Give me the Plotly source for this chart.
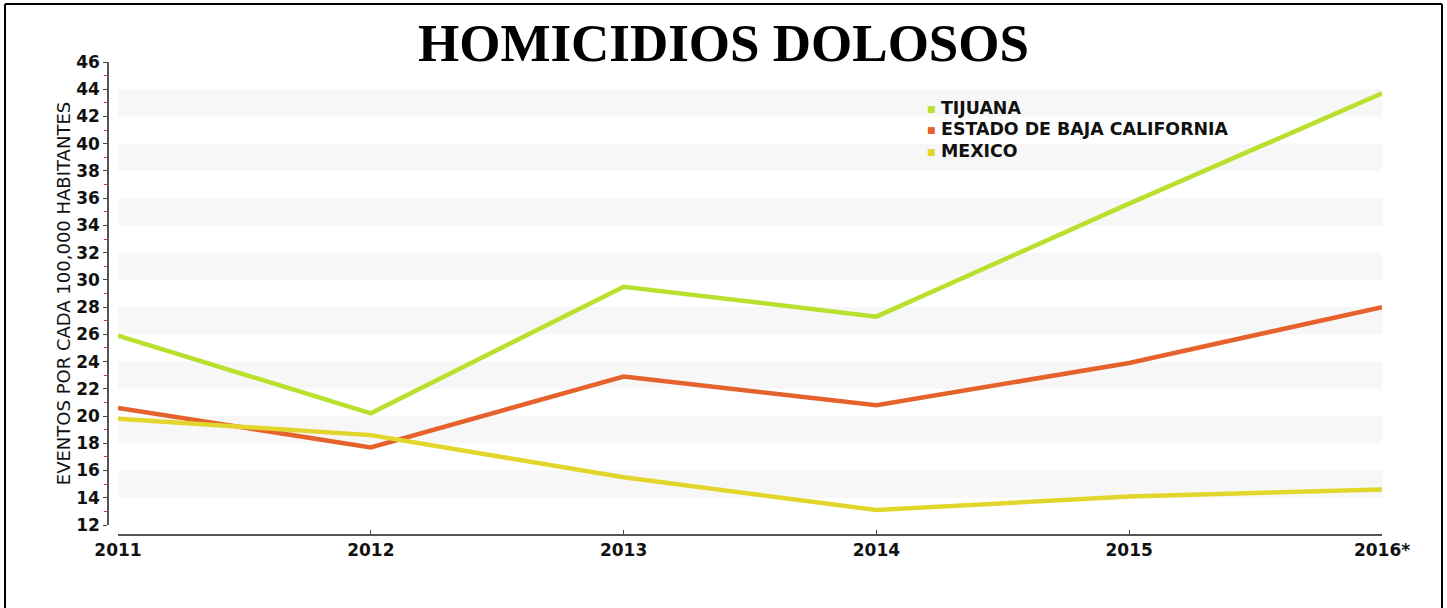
import plotly.graph_objects as go

years = [2011, 2012, 2013, 2014, 2015, 2016]
year_labels = ["2011", "2012", "2013", "2014", "2015", "2016*"]
tijuana = [25.9, 20.2, 29.5, 27.3, 35.6, 43.7]
estado_bc = [20.6, 17.7, 22.9, 20.8, 23.9, 28.0]
mexico = [19.8, 18.6, 15.5, 13.1, 14.1, 14.6]

series_names = ["TIJUANA", "ESTADO DE BAJA CALIFORNIA", "MEXICO"]
series_values = [tijuana, estado_bc, mexico]
colors = ["#b8e02c", "#e6622c", "#e2d52c"]

y_min, y_max = 12, 46
y_ticks = list(range(12, 47, 2))

W, H = 1447, 608
ml, mr, mt, mb = 108, 65, 62, 73
pw, ph = W - ml - mr, H - mt - mb
gap = 10


def px_x(p):
    return (p - ml) / pw


def px_y(p):
    return (H - mb - p) / ph


fig = go.Figure()

for name, vals, col in zip(series_names, series_values, colors):
    fig.add_trace(go.Scatter(x=years, y=vals, mode="lines", name=name,
                             line=dict(color=col, width=4.5), showlegend=False,
                             hoverinfo="skip"))

shapes = []
for b in range(14, 44, 4):
    shapes.append(dict(type="rect", xref="x", yref="y", x0=years[0], x1=years[-1],
                       y0=b, y1=b + 2, fillcolor="#f7f7f7", line=dict(width=0),
                       layer="below"))
# outer frame (left, top, right)
fx0, fx1 = px_x(5), px_x(1442)
fy1, fy0 = px_y(4), px_y(700)
for (a, b, c, d) in [(fx0, fx0, fy0, fy1), (fx0, fx1, fy1, fy1), (fx1, fx1, fy0, fy1)]:
    shapes.append(dict(type="line", xref="paper", yref="paper", x0=a, x1=b, y0=c, y1=d,
                       line=dict(color="black", width=2)))

# legend as annotations
annotations = []
legend_rows = [108, 129, 151]
for name, col, ry in zip(series_names, colors, legend_rows):
    annotations.append(dict(xref="paper", yref="paper", x=px_x(931), y=px_y(ry + 1),
                            xanchor="center", yanchor="middle", showarrow=False,
                            text="■", font=dict(family="DejaVu Sans", size=9, color=col)))
    annotations.append(dict(xref="paper", yref="paper", x=px_x(939), y=px_y(ry),
                            xanchor="left", yanchor="middle", showarrow=False,
                            text=name,
                            font=dict(family="DejaVu Sans", size=17.4, color="#111111",
                                      weight="bold")))

tick_font = dict(family="DejaVu Sans", size=17, color="#111111", weight="bold")

fig.update_layout(
    width=W, height=H,
    margin=dict(l=ml, r=mr, t=mt, b=mb, autoexpand=False),
    paper_bgcolor="white", plot_bgcolor="white",
    title=dict(text="HOMICIDIOS DOLOSOS", x=0.5, xref="container", xanchor="center",
               y=1 - 42 / H, yref="container", yanchor="middle",
               font=dict(family="Liberation Serif", size=53, color="black", weight="bold")),
    xaxis=dict(range=[years[0], years[-1]], domain=[gap / pw, 1], anchor="free", position=0,
               tickvals=years, ticktext=year_labels, showgrid=False, zeroline=False,
               showline=True, linecolor="#555555", linewidth=1.5,
               ticks="inside", ticklen=4, tickcolor="#444444",
               tickfont=tick_font),
    yaxis=dict(range=[y_min, y_max], domain=[gap / ph, 1], anchor="free", position=0,
               tickvals=y_ticks, showgrid=False, zeroline=False,
               showline=True, linecolor="#555555", linewidth=1.5,
               ticks="outside", ticklen=4, tickcolor="#444444",
               minor=dict(dtick=1, tick0=y_min, ticks="outside", ticklen=3, tickcolor="#e03030"),
               tickfont=tick_font,
               title=dict(text="EVENTOS POR CADA 100,000 HABITANTES", standoff=0,
                          font=dict(family="DejaVu Sans", size=18, color="#111111"))),
    shapes=shapes,
    annotations=annotations,
    showlegend=False,
)

fig.write_html("out.html", config={"displayModeBar": False},
               post_script="document.body.style.margin='0';")
